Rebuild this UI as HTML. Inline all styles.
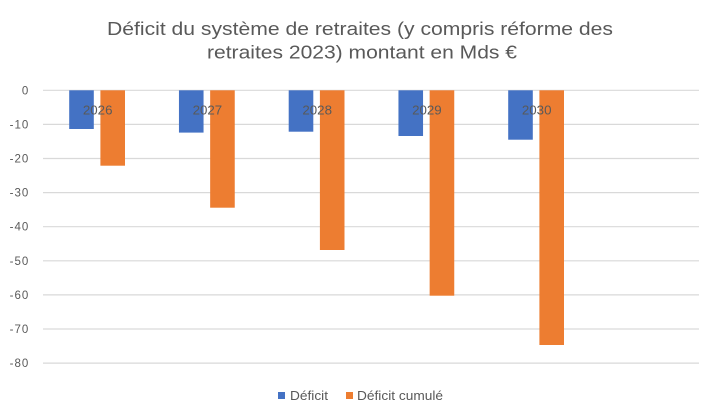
<!DOCTYPE html>
<html>
<head>
<meta charset="utf-8">
<style>
html,body{margin:0;padding:0;background:#fff;}
svg{display:block;}
text{font-family:"Liberation Sans",Arial,sans-serif;fill:#595959;}
</style>
</head>
<body>
<svg width="716" height="418" viewBox="0 0 716 418" xmlns="http://www.w3.org/2000/svg">
<rect x="0" y="0" width="716" height="418" fill="#fff"/>
<!-- title -->
<text x="107" y="35" font-size="18.6" textLength="506" lengthAdjust="spacingAndGlyphs">Déficit du système de retraites (y compris réforme des</text>
<text x="207" y="58.3" font-size="18.6" textLength="310" lengthAdjust="spacingAndGlyphs">retraites 2023) montant en Mds €</text>
<!-- gridlines -->
<g stroke="#d9d9d9" stroke-width="1.2">
<line x1="43" x2="699" y1="90.3" y2="90.3"/>
<line x1="43" x2="699" y1="124.4" y2="124.4"/>
<line x1="43" x2="699" y1="158.5" y2="158.5"/>
<line x1="43" x2="699" y1="192.6" y2="192.6"/>
<line x1="43" x2="699" y1="226.7" y2="226.7"/>
<line x1="43" x2="699" y1="260.8" y2="260.8"/>
<line x1="43" x2="699" y1="294.9" y2="294.9"/>
<line x1="43" x2="699" y1="329.0" y2="329.0"/>
<line x1="43" x2="699" y1="363.1" y2="363.1"/>
</g>
<!-- y labels -->
<g font-size="11.5" text-anchor="end" letter-spacing="1">
<text x="29.3" y="94.3">0</text>
<text x="29.3" y="128.4">-10</text>
<text x="29.3" y="162.5">-20</text>
<text x="29.3" y="196.6">-30</text>
<text x="29.3" y="230.7">-40</text>
<text x="29.3" y="264.8">-50</text>
<text x="29.3" y="298.9">-60</text>
<text x="29.3" y="333.0">-70</text>
<text x="29.3" y="367.1">-80</text>
</g>
<!-- bars -->
<g fill="#4472c4">
<rect x="69.2" y="90.3" width="24.6" height="38.7"/>
<rect x="178.95" y="90.3" width="24.6" height="42.3"/>
<rect x="288.7" y="90.3" width="24.6" height="41.4"/>
<rect x="398.45" y="90.3" width="24.6" height="45.7"/>
<rect x="508.2" y="90.3" width="24.6" height="49.4"/>
</g>
<g fill="#ed7d31">
<rect x="100.4" y="90.3" width="24.6" height="75.4"/>
<rect x="210.15" y="90.3" width="24.6" height="117.4"/>
<rect x="319.9" y="90.3" width="24.6" height="159.7"/>
<rect x="429.65" y="90.3" width="24.6" height="205.4"/>
<rect x="539.4" y="90.3" width="24.6" height="254.7"/>
</g>
<!-- category labels -->
<g font-size="13.3" text-anchor="middle">
<text x="97.7" y="114.5">2026</text>
<text x="207.4" y="114.5">2027</text>
<text x="317.2" y="114.5">2028</text>
<text x="426.9" y="114.5">2029</text>
<text x="536.7" y="114.5">2030</text>
</g>
<!-- legend -->
<rect x="278" y="392" width="7" height="7" fill="#4472c4"/>
<text x="290" y="400" font-size="13" textLength="38" lengthAdjust="spacingAndGlyphs">Déficit</text>
<rect x="346" y="392" width="7" height="7" fill="#ed7d31"/>
<text x="357" y="400" font-size="13" textLength="86" lengthAdjust="spacingAndGlyphs">Déficit cumulé</text>
</svg>
</body>
</html>
